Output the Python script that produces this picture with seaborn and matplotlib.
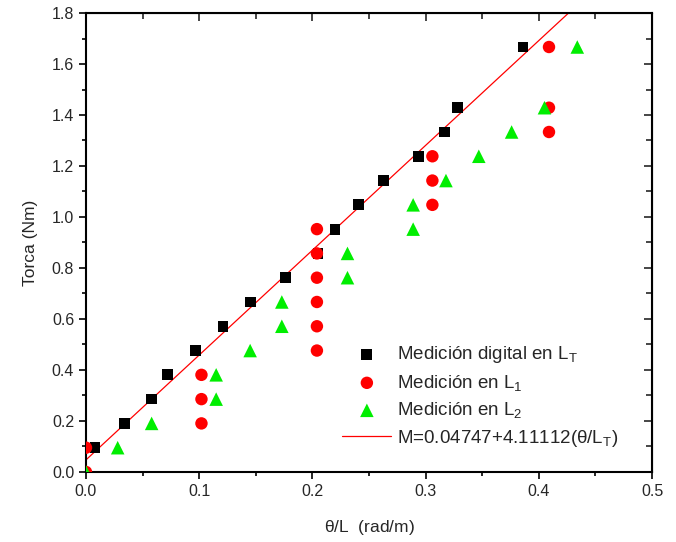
import numpy as np
import pandas as pd
import seaborn as sns
import matplotlib.pyplot as plt
from matplotlib.ticker import MultipleLocator

# torque steps (Nm)
k = 0.09524

# Medicion digital en L_T
x_dig = [0.008, 0.034, 0.058, 0.072, 0.097, 0.121, 0.145, 0.176, 0.205, 0.220,
         0.241, 0.263, 0.294, 0.317, 0.328, 0.386]
y_dig = [k * i for i in range(1, 16)] + [k * 17.5]

# Medicion en L_1
x_l1 = [0.0, 0.0, 0.102, 0.102, 0.102, 0.204, 0.204, 0.204, 0.204, 0.204, 0.204,
        0.306, 0.306, 0.306, 0.409, 0.409, 0.409]
y_l1 = [0.0] + [k * i for i in range(1, 15)] + [k * 15, k * 17.5]

# Medicion en L_2
x_l2 = [0.0, 0.028, 0.058, 0.115, 0.115, 0.145, 0.173, 0.173, 0.231, 0.231,
        0.289, 0.289, 0.318, 0.347, 0.376, 0.405, 0.434]
y_l2 = [0.0] + [k * i for i in range(1, 16)] + [k * 17.5]

# ajuste lineal
a, b = 0.04747, 4.11112
x_fit = [0.0, 0.45]

d_dig = pd.DataFrame({"x": x_dig, "y": y_dig})
d_l1 = pd.DataFrame({"x": x_l1, "y": y_l1})
d_l2 = pd.DataFrame({"x": x_l2, "y": y_l2})
d_fit = pd.DataFrame({"x": x_fit, "y": [a + b * v for v in x_fit]})

sns.set_style("ticks")
plt.rcParams['font.family'] = ['Liberation Sans', 'DejaVu Sans']
plt.rcParams['mathtext.default'] = 'regular'

fig = plt.figure(figsize=(6.76, 5.42), dpi=100)
ax = fig.add_axes([0.1272, 0.1292, 0.8373, 0.8468])

sns.lineplot(data=d_fit, x="x", y="y", color="#ff0000", lw=0.9, ax=ax,
             label=r"M=0.04747+4.11112($\theta$/L$_T$)")
sns.scatterplot(data=d_dig, x="x", y="y", marker="s", color="black", s=60,
                edgecolor="none", ax=ax, label="Medición digital en L$_T$", zorder=3)
sns.scatterplot(data=d_l1, x="x", y="y", marker="o", color="#ff0000", s=80,
                edgecolor="none", ax=ax, label="Medición en L$_1$", zorder=3)
sns.scatterplot(data=d_l2, x="x", y="y", marker="^", color="#00ee00", s=95,
                edgecolor="none", ax=ax, label="Medición en L$_2$", zorder=3)

# recortar los marcadores al area de los ejes
for c in ax.collections:
    c.set_clip_on(True)
    c.set_clip_path(ax.patch)

ax.set_xlim(0, 0.5)
ax.set_ylim(0, 1.8)
ax.xaxis.set_major_locator(MultipleLocator(0.1))
ax.xaxis.set_minor_locator(MultipleLocator(0.05))
ax.yaxis.set_major_locator(MultipleLocator(0.2))
ax.yaxis.set_minor_locator(MultipleLocator(0.1))
ax.xaxis.set_major_formatter(plt.FormatStrFormatter('%.1f'))
ax.yaxis.set_major_formatter(plt.FormatStrFormatter('%.1f'))

for sp in ax.spines.values():
    sp.set_linewidth(1.5)
    sp.set_color("black")

ax.tick_params(which='both', direction='out', width=1.2, labelsize=11.5, color='black')
ax.tick_params(which='major', length=5)
ax.tick_params(which='minor', length=3)
# espejo arriba/derecha con ticks hacia dentro
axt = ax.secondary_xaxis('top')
axt.xaxis.set_major_locator(MultipleLocator(0.1))
axt.xaxis.set_minor_locator(MultipleLocator(0.05))
axt.tick_params(which='both', direction='in', labeltop=False, width=1.2)
axt.tick_params(which='major', length=6)
axt.tick_params(which='minor', length=4)
axr = ax.secondary_yaxis('right')
axr.yaxis.set_major_locator(MultipleLocator(0.2))
axr.yaxis.set_minor_locator(MultipleLocator(0.1))
axr.tick_params(which='both', direction='in', labelright=False, width=1.2)
axr.tick_params(which='major', length=6)
axr.tick_params(which='minor', length=4)

ax.set_xlabel(r"$\theta$/L  (rad/m)", fontsize=12.5, labelpad=14)
ax.set_ylabel("Torca (Nm)", fontsize=12.5, labelpad=10)

h, l = ax.get_legend_handles_labels()
order = [1, 2, 3, 0]
ax.legend([h[i] for i in order], [l[i] for i in order], frameon=False,
          loc='lower left', bbox_to_anchor=(0.43, 0.022), fontsize=13.5,
          handlelength=2.6, handletextpad=0.3, labelspacing=0.4, borderaxespad=0.3)

fig.savefig("out.png", dpi=100)
